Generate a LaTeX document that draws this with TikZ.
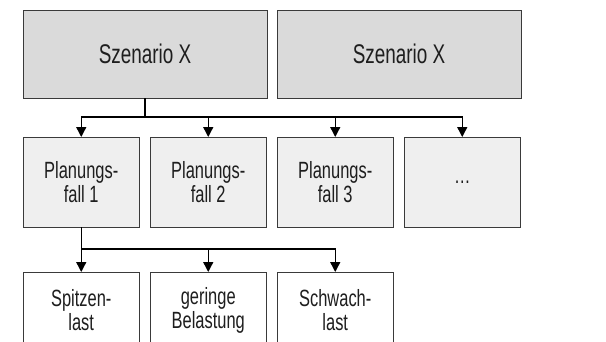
\documentclass[tikz,border=0pt]{standalone}
\usepackage{fontspec}
\setmainfont{Liberation Sans}[FakeStretch=0.7]
\usetikzlibrary{arrows.meta,calc}
\definecolor{topfill}{HTML}{DADADA}
\definecolor{midfill}{HTML}{EFEFEF}
\definecolor{boxline}{HTML}{3A3A3A}
\definecolor{txt}{HTML}{1E1E1E}
\tikzset{
  box/.style={draw=boxline, line width=0.9pt, inner sep=0pt, outer sep=0pt, align=center, text=txt},
  topbox/.style={box, fill=topfill, minimum width=244pt, minimum height=88pt, font=\fontsize{27}{30}\selectfont},
  midbox/.style={box, fill=midfill, minimum width=116.5pt, minimum height=90pt, font=\fontsize{23.5}{24}\selectfont},
  lowbox/.style={box, fill=white, minimum width=116.5pt, minimum height=76pt, font=\fontsize{23.5}{24}\selectfont},
  conn/.style={draw=black, line width=1.4pt},
  arr/.style={conn, -{Triangle[length=10pt,width=10pt]}},
}
\begin{document}
\begin{tikzpicture}[x=1pt,y=-1pt]
\useasboundingbox (0,0) rectangle (606,341);
\fill[white] (0,0) rectangle (606,341);
% top row
\node[topbox] (s1) at (145,54) {Szenario X};
\node[topbox] (s2) at (399,54) {Szenario X};
% middle row
\node[midbox] (p1) at (81.25,182) {Planungs-\\fall 1};
\node[midbox] (p2) at (208.25,182) {Planungs-\\fall 2};
\node[midbox] (p3) at (335.25,182) {Planungs-\\fall 3};
\node[midbox] (p4) at (462.25,182) {\dots};
% lower row
\node[lowbox] (l1) at (81.25,310) {Spitzen-\\last};
\node[lowbox] (l2) at (208.25,310) {geringe\\Belastung};
\node[lowbox] (l3) at (335.25,310) {Schwach-\\last};
% connectors
\coordinate (j1) at ($(s1.south)+(0,19)$);
\draw[conn] (s1.south) -- (j1);
\draw[arr] (j1) -| (p1.north);
\draw[arr] (j1) -| (p2.north);
\draw[arr] (j1) -| (p3.north);
\draw[arr] (j1) -| (p4.north);
\coordinate (j2) at ($(p1.south)+(0,22)$);
\draw[conn] (p1.south) -- (j2);
\draw[arr] (j2) -- (l1.north);
\draw[arr] (j2) -| (l2.north);
\draw[arr] (j2) -| (l3.north);
\end{tikzpicture}
\end{document}
